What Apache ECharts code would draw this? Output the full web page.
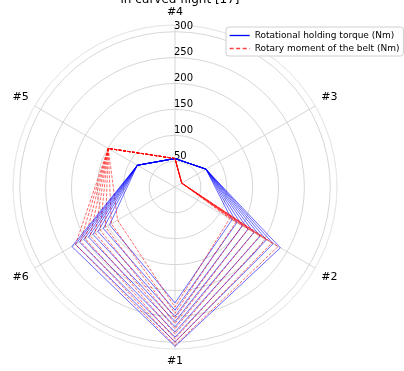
<!DOCTYPE html>
<html>
<head>
<meta charset="utf-8">
<script src="https://cdn.jsdelivr.net/npm/echarts@6/dist/echarts.min.js"></script>
<style>html,body{margin:0;padding:0;background:#fff}#c{width:404px;height:371px}</style>
</head>
<body>
<div id="c"></div>
<script>
// Axis names in counter-clockwise order starting at the top
const axisNames = ['#4', '#5', '#6', '#1', '#2', '#3'];
const radialTicks = [0, 50, 100, 150, 200, 250, 300];
const titleText = 'in curved flight [17]';
const torqueName = 'Rotational holding torque (Nm)';
const beltName = 'Rotary moment of the belt (Nm)';

// Values per axis in the order of axisNames: [#4, #5, #6, #1, #2, #3]
const torqueSeries = [
  [55, 84, 146, 224, 127, 69],
  [55, 84, 160, 238, 138, 69],
  [55, 84, 172, 250, 150, 69],
  [55, 84, 183, 260, 163, 69],
  [55, 84, 193, 270, 176, 69],
  [55, 84, 203, 280, 190, 69],
  [55, 84, 213, 290, 204, 69],
  [55, 84, 222, 299, 219, 69],
  [55, 84, 230, 308, 235, 69]
];
const beltSeries = [
  [55, 149, 128, 232, 122, 15],
  [55, 149, 142, 244, 136, 15],
  [55, 149, 155, 254, 150, 15],
  [55, 149, 167, 264, 163, 15],
  [55, 149, 178, 274, 176, 15],
  [55, 149, 189, 284, 189, 15],
  [55, 149, 200, 293, 202, 15],
  [55, 149, 211, 300, 216, 15],
  [55, 149, 222, 306, 230, 15]
];

const FONT = 'DejaVu Sans';
const step = 360 / axisNames.length;
function toPolarData(vals) {
  const d = vals.map((v, i) => [v, i * step]);
  d.push([vals[0], 0]);
  return d;
}
const series = [];
for (let i = 0; i < torqueSeries.length; i++) {
  series.push({
    name: torqueName, type: 'line', coordinateSystem: 'polar', symbol: 'none',
    data: toPolarData(torqueSeries[i]),
    lineStyle: {color: '#0000ff', width: 0.7, opacity: 0.85, type: 'solid'},
    itemStyle: {color: '#0000ff'}, silent: true, animation: false
  });
  series.push({
    name: beltName, type: 'line', coordinateSystem: 'polar', symbol: 'none',
    data: toPolarData(beltSeries[i]),
    lineStyle: {color: '#ff0000', width: 0.7, opacity: 0.85, type: [3, 1.5]},
    itemStyle: {color: '#ff0000'}, silent: true, animation: false
  });
}

const chart = echarts.init(document.getElementById('c'), null, {renderer: 'canvas'});
chart.setOption({
  animation: false,
  backgroundColor: '#fff',
  textStyle: {fontFamily: FONT},
  title: {
    text: titleText, left: 175, top: -11, textAlign: 'center',
    textStyle: {fontFamily: FONT, fontSize: 12, fontWeight: 'normal', color: '#000'}
  },
  legend: {
    data: [
      {name: torqueName, lineStyle: {width: 1.3, type: 'solid', opacity: 1}},
      {name: beltName, lineStyle: {width: 1.3, type: [4, 2.5], opacity: 0.75}}
    ],
    orient: 'vertical', left: 226, top: 27,
    itemWidth: 20, itemHeight: 8, itemGap: 4,
    padding: [4, 4, 3, 3],
    itemStyle: {opacity: 0},
    backgroundColor: '#fff', borderColor: '#d0d0d0', borderWidth: 1, borderRadius: 3,
    textStyle: {fontFamily: FONT, fontSize: 9, color: '#000'}
  },
  polar: {center: [175, 187], radius: 162},
  angleAxis: {
    type: 'value', min: 0, max: 360, interval: step,
    startAngle: 90, clockwise: false,
    axisLine: {show: true, lineStyle: {color: '#e8e8e8', width: 1}},
    axisTick: {show: false},
    splitLine: {show: true, lineStyle: {color: '#cccccc', width: 0.8}},
    axisLabel: {
      fontFamily: FONT, fontSize: 11, color: '#000', margin: 7,
      formatter: v => (v < 360 ? axisNames[Math.round(v / step)] : '')
    }
  },
  radiusAxis: {
    type: 'value', min: 0, max: 313, interval: 50,
    axisLine: {show: false}, axisTick: {show: false},
    splitLine: {show: true, lineStyle: {color: ['#cccccc','#cccccc','#cccccc','#cccccc','#cccccc','#cccccc','#cccccc','#e8e8e8'], width: 0.8}},
    axisLabel: {
      inside: true, margin: 1, verticalAlign: 'bottom', align: 'left',
      fontFamily: FONT, fontSize: 10, color: '#000',
      formatter: v => (radialTicks.indexOf(v) > 0 ? String(v) : '')
    }
  },
  series: series
});
</script>
</body>
</html>
